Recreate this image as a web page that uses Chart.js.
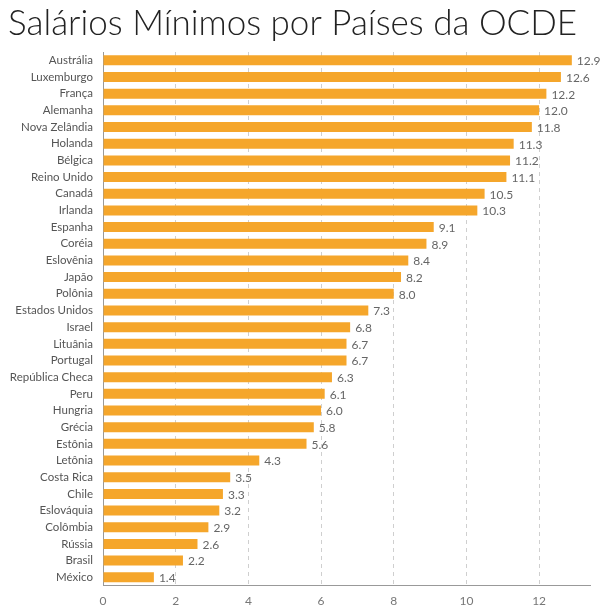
<!DOCTYPE html>
<html>
<head>
<meta charset="utf-8">
<script src="https://cdn.jsdelivr.net/npm/chart.js@4"></script>
<style>
  html, body { margin: 0; padding: 0; background: #fff; }
  #wrap { width: 609px; height: 616px; }
</style>
</head>
<body>
<div id="wrap"><canvas id="wageChart"></canvas></div>
<script>
// Countries, top to bottom
const countries = ['Austrália', 'Luxemburgo', 'França', 'Alemanha', 'Nova Zelândia', 'Holanda', 'Bélgica',
  'Reino Unido', 'Canadá', 'Irlanda', 'Espanha', 'Coréia', 'Eslovênia', 'Japão', 'Polônia',
  'Estados Unidos', 'Israel', 'Lituânia', 'Portugal', 'República Checa', 'Peru', 'Hungria',
  'Grécia', 'Estônia', 'Letônia', 'Costa Rica', 'Chile', 'Eslováquia', 'Colômbia', 'Rússia',
  'Brasil', 'México'];
const wages = [12.9, 12.6, 12.2, 12.0, 11.8, 11.3, 11.2, 11.1, 10.5, 10.3, 9.1, 8.9, 8.4, 8.2, 8.0,
  7.3, 6.8, 6.7, 6.7, 6.3, 6.1, 6.0, 5.8, 5.6, 4.3, 3.5, 3.3, 3.2, 2.9, 2.6, 2.2, 1.4];
const xTicks = [0, 2, 4, 6, 8, 10, 12];

// draws the value next to the end of each bar
const valueLabels = {
  id: 'valueLabels',
  afterDatasetsDraw(chart) {
    const ctx = chart.ctx;
    const meta = chart.getDatasetMeta(0);
    ctx.save();
    ctx.font = '12px Lato';
    ctx.fillStyle = '#666';
    ctx.textAlign = 'left';
    ctx.textBaseline = 'middle';
    meta.data.forEach((bar, i) => {
      ctx.fillText(wages[i].toFixed(1), bar.x + 5, bar.y + 1);
    });
    ctx.restore();
  }
};

document.addEventListener('DOMContentLoaded', function () {
  const ctx = document.getElementById('wageChart').getContext('2d');
  new Chart(ctx, {
    type: 'bar',
    data: {
      labels: countries,
      datasets: [
        {
          data: wages,
          backgroundColor: '#F5A62B',
          borderWidth: 0,
          barPercentage: 0.6,
          categoryPercentage: 1.0,
        },
      ],
    },
    options: {
      indexAxis: 'y',
      responsive: true,
      maintainAspectRatio: false,
      animation: false,
      layout: { padding: { left: 8, right: 19, top: 0, bottom: 0 } },
      plugins: {
        legend: { display: false },
        tooltip: { enabled: false },
        title: {
          display: true,
          text: 'Salários Mínimos por Países da OCDE',
          color: '#222',
          align: 'start',
          font: { family: 'Lato', size: 35, weight: '300' },
          padding: { top: 3, bottom: 7 },
        },
      },
      scales: {
        x: {
          min: 0,
          max: 13.4,
          afterBuildTicks(scale) {
            scale.ticks = xTicks.map(v => ({ value: v }));
          },
          grid: {
            color: (c) => (c.tick && c.tick.value === 0 ? 'rgba(0,0,0,0)' : '#cfcfcf'),
            drawTicks: false,
          },
          border: { display: true, color: '#999', width: 1, dash: [4, 4] },
          ticks: {
            color: '#777',
            font: { family: 'Lato', size: 12 },
            padding: 8,
          },
        },
        y: {
          afterFit(scale) {
            scale.width = 95;
          },
          grid: { display: false, drawTicks: false },
          border: { display: true, color: '#999', width: 1 },
          ticks: {
            color: '#555',
            font: { family: 'Lato', size: 11.5 },
            padding: 10,
            autoSkip: false,
          },
        },
      },
    },
    plugins: [valueLabels],
  });
});
</script>
</body>
</html>
